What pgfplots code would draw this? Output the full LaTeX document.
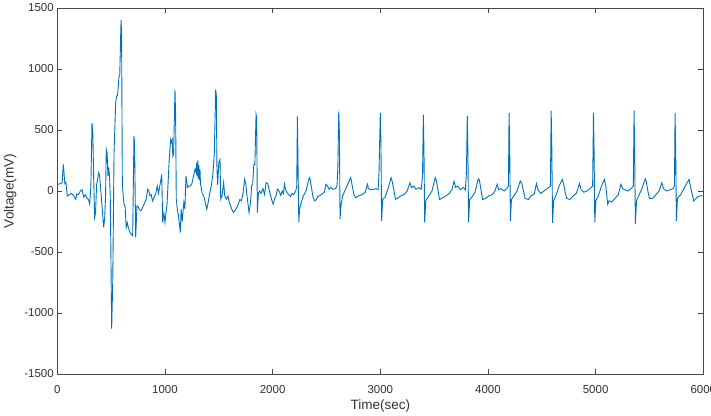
\documentclass[border=0pt]{standalone}
\usepackage{fontspec}
\setmainfont{Liberation Sans}
\usepackage{pgfplots}
\pgfplotsset{compat=1.18}
\definecolor{mblue}{RGB}{0,114,189}
\definecolor{axgray}{RGB}{70,70,70}
\definecolor{txgray}{RGB}{50,50,50}
\begin{document}
\begin{tikzpicture}
\begin{axis}[
  at={(57.3pt,41pt)}, anchor=south west,
  scale only axis, width=646pt, height=366pt,
  xmin=0, xmax=6000, ymin=-1500, ymax=1500,
  xtick={0,1000,...,6000}, ytick={-1500,-1000,...,1500},
  scaled ticks=false,
  /pgf/number format/1000 sep={},
  /pgf/number format/assume math mode=true,
  tick align=inside, major tick length=5pt,
  axis line style={axgray, line width=0.8pt},
  every tick/.style={axgray, line width=0.8pt},
  tick label style={font=\fontsize{11.5}{13}\selectfont, text=txgray},
  xticklabel style={yshift=-8pt},
  label style={font=\fontsize{13.5}{15}\selectfont, text=txgray},
  xlabel={Time(sec)}, ylabel={Voltage(mV)},
  xlabel style={yshift=1pt},
  ylabel style={yshift=1pt},
]
\addplot[mblue, line width=0.9pt, mark=none] coordinates {
(0,55) (9,55) (30,60) (45,70) (56,218) (62,150) (70,60) (80,70) (93,-41) (110,-30)
(130,-20) (150,-35) (171,-68) (180,-25) (195,-30) (215,0) (230,10) (245,-50) (260,-30) (275,-60)
(290,-70) (301,-109) (312,50) (322,558) (330,478) (338,100) (347,-218) (355,-180) (365,50) (375,100)
(384,150) (392,130) (400,50) (410,-60) (420,-180) (431,-297) (440,-220) (448,-50) (455,340) (463,310)
(470,123) (478,193) (486,100) (492,-50) (498,-530) (505,-1129) (515,-749) (527,312) (542,720) (550,776)
(560,786) (573,938) (580,950) (592,1401) (597,1292) (604,68) (612,-41) (620,-109) (630,-130) (640,-299)
(650,-260) (660,-300) (675,-340) (700,-367) (712,449) (718,380) (728,-379) (740,-122) (750,-130) (765,-155)
(780,-160) (795,-130) (810,-100) (825,-68) (840,14) (850,0) (862,-40) (872,-30) (885,-82) (900,-50)
(915,-20) (928,41) (940,-20) (960,80) (970,136) (979,-258) (990,-180) (1000,-258) (1010,-176) (1020,-100)
(1038,232) (1053,422) (1060,400) (1067,420) (1073,286) (1080,300) (1093,830) (1099,612) (1105,-68) (1115,-149)
(1125,-200) (1143,-340) (1150,-149) (1160,-250) (1175,-95) (1185,-149) (1195,123) (1210,30) (1220,40) (1235,41)
(1250,60) (1265,123) (1280,180) (1290,150) (1295,232) (1300,120) (1305,250) (1310,100) (1315,210) (1320,90)
(1325,180) (1330,60) (1345,-20) (1360,-41) (1375,-100) (1388,-149) (1400,-100) (1415,-20) (1430,40) (1445,136)
(1458,300) (1471,830) (1477,780) (1483,177) (1490,50) (1500,232) (1511,259) (1518,-68) (1530,-40) (1545,68)
(1555,-40) (1570,-68) (1585,-40) (1600,-100) (1620,-149) (1635,-176) (1650,-160) (1665,-140) (1680,-110) (1695,-70)
(1710,-80) (1725,-20) (1740,95) (1750,60) (1762,-40) (1781,-177) (1795,-90) (1805,41) (1815,60) (1825,218)
(1835,218) (1846,626) (1852,600) (1858,-177) (1868,-14) (1880,0) (1892,-20) (1910,20) (1925,-30) (1940,68)
(1955,60) (1970,0) (1990,-68) (2005,-109) (2020,-60) (2030,-41) (2045,14) (2060,0) (2075,-35) (2090,0)
(2100,-20) (2110,55) (2120,10) (2135,-15) (2150,-30) (2165,-45) (2180,-20) (2195,-30) (2215,0) (2224,41)
(2230,612) (2236,204) (2243,-258) (2250,-150) (2265,-95) (2285,-40) (2310,0) (2335,95) (2345,110) (2360,30)
(2375,-50) (2390,-81) (2405,-70) (2420,-45) (2450,-30) (2480,-10) (2495,55) (2510,40) (2525,14) (2540,30)
(2560,14) (2585,20) (2598,41) (2606,200) (2614,653) (2620,480) (2626,-231) (2635,-120) (2650,-40) (2680,20)
(2710,80) (2725,110) (2740,40) (2755,-30) (2770,-55) (2800,-40) (2830,-30) (2860,-10) (2880,55) (2890,20)
(2910,10) (2940,14) (2960,20) (2980,10) (2988,150) (3000,641) (3006,400) (3012,-245) (3022,-68) (3045,-50)
(3070,14) (3100,109) (3110,80) (3125,14) (3140,-68) (3160,-60) (3190,-40) (3220,-30) (3250,0) (3275,68)
(3290,27) (3310,41) (3330,14) (3360,27) (3380,14) (3392,122) (3400,626) (3406,300) (3412,-258) (3422,-80)
(3445,-50) (3480,0) (3510,110) (3520,90) (3535,10) (3550,-70) (3580,-55) (3610,-40) (3640,-20) (3665,10)
(3685,80) (3700,30) (3720,40) (3745,10) (3770,30) (3790,10) (3800,150) (3808,613) (3814,300) (3820,-258)
(3830,-70) (3850,-50) (3880,-10) (3910,100) (3920,90) (3935,10) (3950,-70) (3980,-60) (4010,-40) (4040,-30)
(4065,0) (4085,55) (4100,10) (4120,20) (4150,0) (4175,20) (4190,40) (4196,641) (4202,350) (4208,-245)
(4218,-70) (4240,-40) (4270,0) (4300,82) (4315,60) (4330,0) (4345,-60) (4375,-70) (4400,-40) (4430,-25)
(4450,60) (4465,10) (4490,-20) (4520,0) (4550,20) (4580,40) (4587,658) (4593,350) (4600,-262) (4610,-80)
(4630,-40) (4660,40) (4690,95) (4700,70) (4715,0) (4730,-60) (4760,-70) (4790,-40) (4820,-20) (4850,60)
(4865,10) (4890,-10) (4920,0) (4950,20) (4972,40) (4980,641) (4986,300) (4992,-258) (5002,-80) (5025,-40)
(5054,40) (5081,95) (5095,40) (5112,-109) (5125,-80) (5150,-90) (5180,-60) (5210,-30) (5235,55) (5250,20)
(5270,10) (5300,0) (5330,20) (5350,40) (5357,658) (5363,300) (5369,-272) (5380,-80) (5400,-40) (5430,20)
(5460,100) (5470,80) (5485,0) (5500,-60) (5530,-60) (5560,-30) (5590,0) (5615,68) (5630,20) (5660,0)
(5690,10) (5720,20) (5732,40) (5738,641) (5744,300) (5750,-245) (5760,-60) (5790,-30) (5820,20) (5845,60)
(5868,95) (5880,40) (5897,-27) (5912,-82) (5943,-50) (5970,-40) (6000,-41)
};
\end{axis}
\pgfresetboundingbox
\path (0,0) rectangle (711pt,415pt);
\end{tikzpicture}
\end{document}
